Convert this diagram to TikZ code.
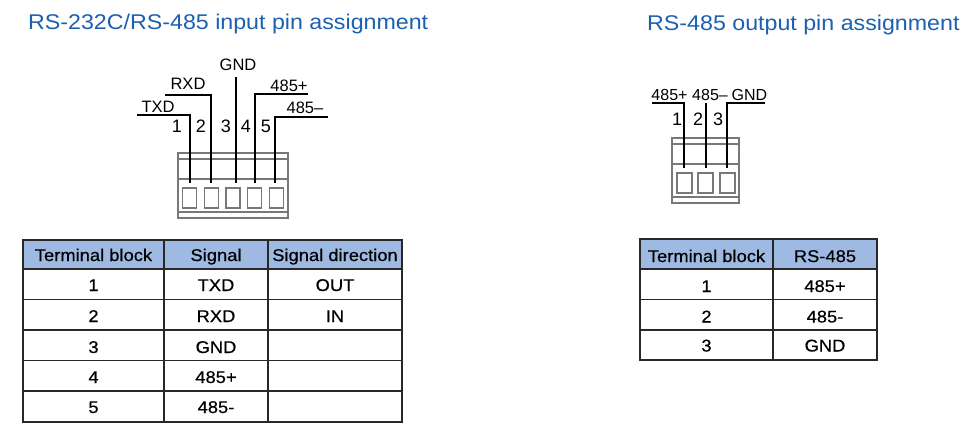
\documentclass[tikz,border=0pt]{standalone}
\usepackage{fontspec}
\setmainfont{Liberation Sans}
\newfontfamily\ttlfont{Liberation Sans}[FakeStretch=1.09]
\newfontfamily\tabfont{Liberation Sans}[FakeStretch=1.08,FakeBold=0.5]
\definecolor{titleblue}{RGB}{28,96,176}
\definecolor{headfill}{RGB}{158,186,226}
\definecolor{boxgray}{RGB}{120,120,120}
\definecolor{gridc}{RGB}{40,40,40}
\tikzset{
  ttl/.style={font=\ttlfont\fontsize{21.3}{26}\selectfont, text=titleblue, anchor=base west, inner sep=0},
  lbl/.style={font=\fontsize{16.5}{20}\selectfont, anchor=base, inner sep=0},
  num/.style={font=\fontsize{18}{20}\selectfont, anchor=base, inner sep=0},
  cell/.style={font=\tabfont\fontsize{17}{20}\selectfont, anchor=base, inner sep=0},
  wireL/.style={line width=2.6pt, black},
  wireR/.style={line width=2pt, black},
  boxline/.style={draw=boxgray, line width=1.2pt},
  grid/.style={draw=gridc, line width=1.3pt}
}
\begin{document}
\begin{tikzpicture}[x=1pt,y=-1pt]
\useasboundingbox (0,0) rectangle (970,442);
\fill[white] (0,0) rectangle (970,442);

% titles
\node[ttl] (t1) at (28,29) {RS-232C/RS-485 input pin assignment};
\node[ttl] (t2) at (647,30.5) {RS-485 output pin assignment};

% ---------- left connector ----------
\draw[boxline] (178,153) rectangle (288,218);
\draw[boxline] (178,159) -- (288,159);
\draw[boxline] (178,179) -- (288,179);
\draw[boxline] (178,212) -- (288,212);
\foreach \i/\x in {1/182.5,2/204.2,3/225.9,4/247.6,5/269.3}{
  \draw[boxline] (\x,188) rectangle ++(14,20);
}
\coordinate (e1) at (190,183);
\coordinate (e2) at (211,183);
\coordinate (e3) at (236,183);
\coordinate (e4) at (255,183);
\coordinate (e5) at (275,183);
\coordinate (s1) at (137,115);
\coordinate (s2) at (165,95);
\coordinate (s3) at (236,77);
\coordinate (s4) at (308,94);
\coordinate (s5) at (328,117);
\draw[wireL] (s1) -| (e1);
\draw[wireL] (s2) -| (e2);
\draw[wireL] (s3) -- (e3);
\draw[wireL] (s4) -| (e4);
\draw[wireL] (s5) -| (e5);

\node[lbl] (lTXD) at (158,112) {TXD};
\node[lbl] (lRXD) at (188,89) {RXD};
\node[lbl] (lGND) at (238,70) {GND};
\node[lbl] (lP) at (289,91) {485+};
\node[lbl] (lM) at (305,113) {485–};

\node[num] (n1) at (177,132) {1};
\node[num] (n2) at (201,132) {2};
\node[num] (n3) at (226,132) {3};
\node[num] (n4) at (246,132) {4};
\node[num] (n5) at (266,132) {5};

% ---------- right connector ----------
\draw[boxline] (672,138) rectangle (739,203);
\draw[boxline] (672,144) -- (739,144);
\draw[boxline] (672,164) -- (739,164);
\draw[boxline] (672,197) -- (739,197);
\foreach \x in {677,698,720}{
  \draw[boxline] (\x,173) rectangle ++(15,20);
}
\coordinate (f1) at (684,168);
\coordinate (f2) at (706,168);
\coordinate (f3) at (727,168);
\coordinate (r1) at (652,103);
\coordinate (r2) at (706,103);
\coordinate (r3) at (765,103);
\draw[wireR] (r1) -| (f1);
\draw[wireR] (r2) -- (f2);
\draw[wireR] (r3) -| (f3);

\node[lbl,font=\fontsize{16}{20}\selectfont] (rP) at (669.5,100) {485+};
\node[lbl,font=\fontsize{16}{20}\selectfont] (rM) at (710,100) {485–};
\node[lbl,font=\fontsize{16}{20}\selectfont] (rG) at (749.5,100) {GND};

\node[num] (m1) at (677,125) {1};
\node[num] (m2) at (698,125) {2};
\node[num] (m3) at (718,125) {3};

% ---------- left table ----------
\fill[headfill] (23,240) rectangle (402,269);
\draw[grid] (23,240) rectangle (402,422);
\foreach \y in {269,299.5,330,360.5,391}{
  \draw[grid] (23,\y) -- (402,\y);
}
\draw[grid] (164,240) -- (164,422);
\draw[grid] (268,240) -- (268,422);

\node[cell] (h1) at (93.5,261) {Terminal block};
\node[cell] (h2) at (216,261) {Signal};
\node[cell] (h3) at (335,261) {Signal direction};

\node[cell] (a1) at (93.5,291) {1};
\node[cell] (b1) at (216,291) {TXD};
\node[cell] (c1) at (335,291) {OUT};
\node[cell] (a2) at (93.5,322) {2};
\node[cell] (b2) at (216,322) {RXD};
\node[cell] (c2) at (335,322) {IN};
\node[cell] (a3) at (93.5,353) {3};
\node[cell] (b3) at (216,353) {GND};
\node[cell] (a4) at (93.5,383) {4};
\node[cell] (b4) at (216,383) {485+};
\node[cell] (a5) at (93.5,413) {5};
\node[cell] (b5) at (216,413) {485-};

% ---------- right table ----------
\fill[headfill] (640,239) rectangle (877,269);
\draw[grid] (640,239) rectangle (877,360);
\foreach \y in {269,299.5,330}{
  \draw[grid] (640,\y) -- (877,\y);
}
\draw[grid] (773,239) -- (773,360);

\node[cell] (k1) at (706.5,262) {Terminal block};
\node[cell] (k2) at (825,262) {RS-485};
\node[cell] (x1) at (706.5,292) {1};
\node[cell] (y1) at (825,292) {485+};
\node[cell] (x2) at (706.5,322.5) {2};
\node[cell] (y2) at (825,322.5) {485-};
\node[cell] (x3) at (706.5,351.5) {3};
\node[cell] (y3) at (825,351.5) {GND};
\end{tikzpicture}
\end{document}
